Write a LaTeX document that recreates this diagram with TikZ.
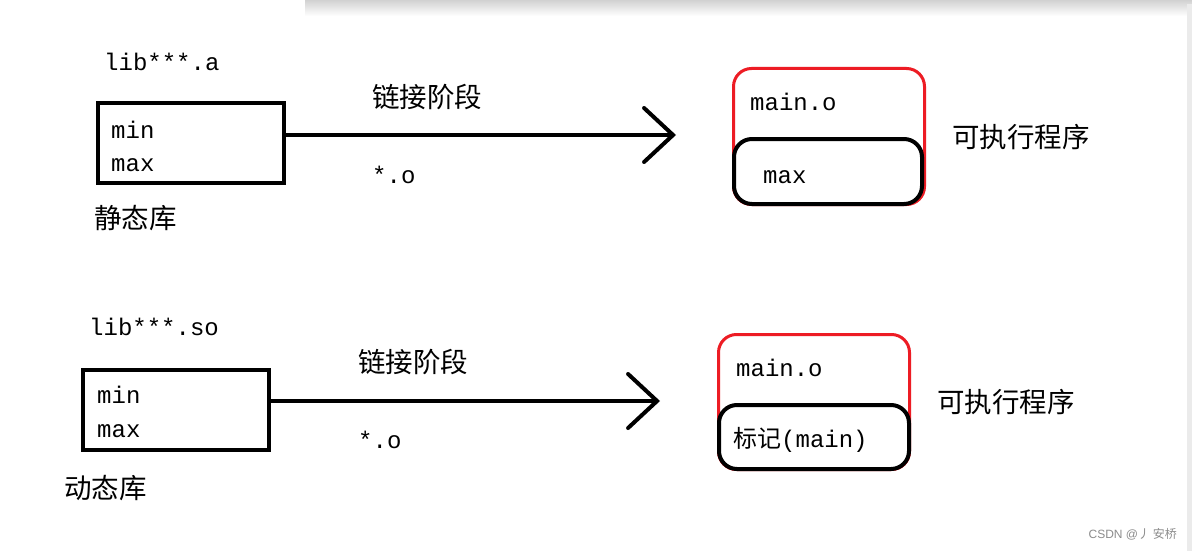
\documentclass[tikz,border=0pt]{standalone}
\usepackage{fontspec}
\setmainfont{Liberation Mono}
\newfontfamily\cjk{Noto Sans CJK SC}
\newfontfamily\wm{Liberation Sans}
\usetikzlibrary{arrows.meta}
\tikzset{
  libbox/.style={draw=black,line width=4pt,minimum width=186pt,minimum height=80pt,inner sep=0pt},
  exebox/.style={draw={rgb,255:red,237;green,28;blue,36},line width=3pt,rounded corners=18pt,minimum width=191pt,minimum height=136pt,inner sep=0pt},
  segbox/.style={draw=black,line width=4pt,rounded corners=18pt,minimum width=188pt,minimum height=65pt,inner sep=0pt},
  lat/.style={anchor=west,inner sep=0pt,font=\fontsize{24}{24}\selectfont},
  zh/.style={anchor=west,inner sep=0pt,font=\cjk\fontsize{27.5}{27.5}\selectfont},
  link/.style={line width=4pt,line cap=round,-{Straight Barb[length=29pt,width=54pt,line width=4pt,line cap=round]}},
}
\begin{document}
\begin{tikzpicture}[x=1pt,y=-1pt]
\useasboundingbox (0,0) rectangle (1192,551);
\fill[white] (0,0) rectangle (1192,551);
\shade[top color=black!18,bottom color=white] (305,0) rectangle (1192,16);
\fill[black!8] (1187,4) rectangle (1192,551);

% top row
\node[lat] (liba) at (104,62) {lib***.a};
\node[libbox] (boxa) at (191,143) {};
\node[lat] (mina) at (111,130) {min};
\node[lat] (maxa) at (111,165) {max};
\node[zh] (sta) at (94,218) {静态库};
\coordinate (tipa) at (676,135);
\draw[link] (boxa.east |- tipa) -- (tipa);
\node[zh] (linka) at (372,97) {链接阶段};
\node[lat] (oa) at (372,175) {*.o};
\node[exebox] (exea) at (829,136.5) {};
\node[segbox] (sega) at (828,171.5) {};
\node[lat] (maina) at (750,102) {main.o};
\node[lat] (maxe) at (763,177) {max};
\node[zh] (prga) at (952,137) {可执行程序};

% bottom row
\node[lat] (libb) at (89,327) {lib***.so};
\node[libbox] (boxb) at (176,409.5) {};
\node[lat] (minb) at (97,395) {min};
\node[lat] (maxb) at (97,431) {max};
\node[zh] (dyn) at (64,488) {动态库};
\coordinate (tipb) at (660,401);
\draw[link] (boxb.east |- tipb) -- (tipb);
\node[zh] (linkb) at (358,362) {链接阶段};
\node[lat] (ob) at (358,440) {*.o};
\node[exebox,minimum height=135pt] (exeb) at (814,402) {};
\node[segbox,minimum height=64pt,minimum width=190pt] (segb) at (814,437) {};
\node[lat] (mainb) at (736,368) {main.o};
\node[lat] (mark) at (733,440) {{\cjk 标记}(main)};
\node[zh] (prgb) at (937,402) {可执行程序};

\node[anchor=east,inner sep=0pt,text=black!45,font=\fontsize{12}{12}\selectfont] (wmk) at (1177,534) {\wm CSDN @{\cjk 丿 安桥}};
\end{tikzpicture}
\end{document}
